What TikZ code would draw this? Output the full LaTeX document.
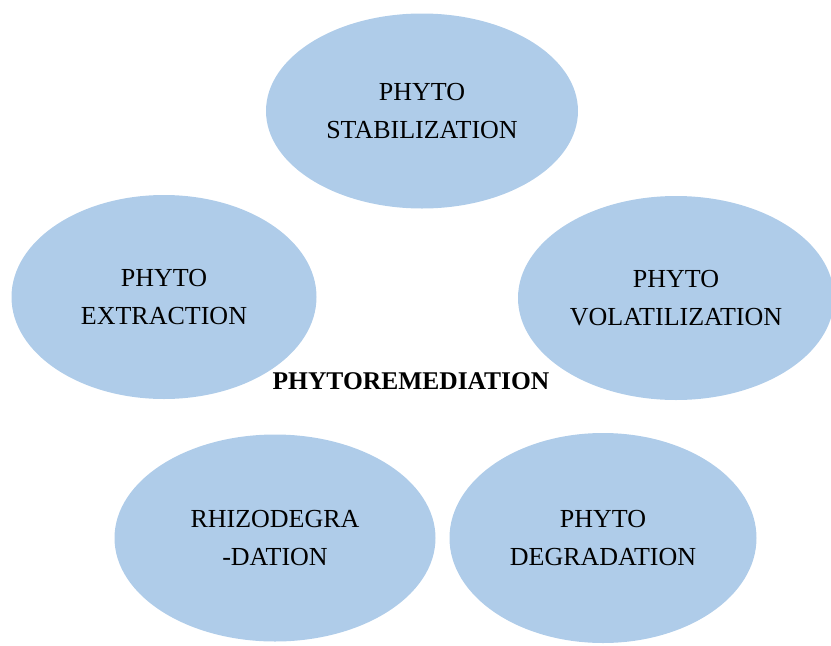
\documentclass[tikz,border=0pt]{standalone}
\usepackage{fontspec}
\setmainfont{Liberation Serif}
\usepackage{tikz}
\usepackage{xcolor}
\usetikzlibrary{shapes.geometric, positioning}
\definecolor{ovalblue}{RGB}{175, 204, 233}

\begin{document}
\begin{tikzpicture}[x=1pt, y=-1pt,
                        method/.style={ellipse, fill=ovalblue, inner sep=0pt, align=center,
                                       font=\fontsize{26}{38}\selectfont}]
                        \useasboundingbox (0, 0) rectangle (831, 646);
                        \node[method, minimum width=312pt, minimum height=195pt] (stab) at (422, 111) {PHYTO\\STABILIZATION};
                        \node[method, minimum width=305pt, minimum height=204pt] (extr) at (164, 297) {PHYTO\\EXTRACTION};
                        \node[method, minimum width=316pt, minimum height=204pt] (vola) at (676, 298) {PHYTO\\VOLATILIZATION};
                        \node[method, minimum width=321pt, minimum height=207pt] (rhizo) at (275, 538) {RHIZODEGRA\\-DATION};
                        \node[method, minimum width=307pt, minimum height=210pt] (degr) at (603, 538) {PHYTO\\DEGRADATION};
                        \node[anchor=base, inner sep=0pt, font=\fontsize{25.5}{30}\selectfont\bfseries] (phyto) at (411, 389) {PHYTOREMEDIATION};
                    \end{tikzpicture}
\end{document}
